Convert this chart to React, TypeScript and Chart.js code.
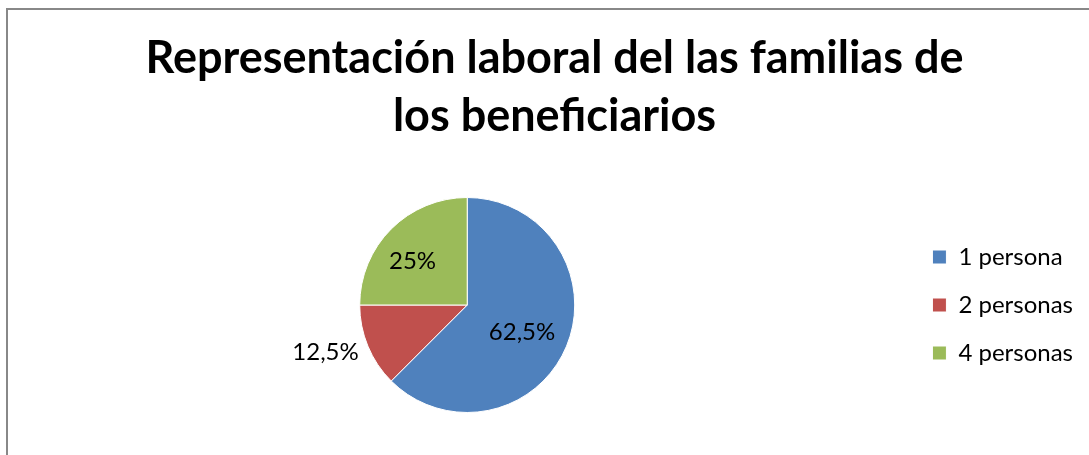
import React, { useEffect, useRef } from "react";
import { Chart, registerables } from "chart.js";

Chart.register(...registerables);

const titleLines = ["Representación laboral del las familias de", "los beneficiarios"];
const categories = ["1 persona", "2 personas", "4 personas"];
const shares = [62.5, 12.5, 25];
const valueLabels = ["62,5%", "12,5%", "25%"];
const sliceColors = ["#4F81BD", "#C0504D", "#9BBB59"];

const FONT = "Lato, 'Noto Sans', sans-serif";

const labelPlugin = {
  id: "sliceLabels",
  afterDatasetsDraw(chart: any, _args: any, opts: any) {
    const ctx = chart.ctx;
    const meta = chart.getDatasetMeta(0);
    ctx.save();
    ctx.font = `${opts.size}px ${FONT}`;
    ctx.fillStyle = "#000";
    ctx.textBaseline = "middle";
    meta.data.forEach((arc: any, i: number) => {
      const mid = (arc.startAngle + arc.endAngle) / 2 + (opts.angleOffsets[i] * Math.PI) / 180;
      const f = opts.factors[i];
      const x = arc.x + Math.cos(mid) * arc.outerRadius * f;
      const y = arc.y + Math.sin(mid) * arc.outerRadius * f;
      ctx.textAlign = opts.aligns[i];
      ctx.fillText(valueLabels[i], x, y);
    });
    ctx.restore();
  },
};

export default function App() {
  const ref = useRef<HTMLCanvasElement | null>(null);
  useEffect(() => {
    if (!ref.current) return;
    const chart = new Chart(ref.current, {
      type: "pie",
      data: {
        labels: categories,
        datasets: [
          {
            data: shares,
            backgroundColor: sliceColors,
            borderColor: "#ffffff",
            borderWidth: 1,
          },
        ],
      },
      options: {
        responsive: false,
        animation: false,
        layout: { padding: { top: 0, bottom: 42, left: 26, right: 6 } },
        plugins: {
          title: {
            display: true,
            text: titleLines,
            color: "#000",
            font: { family: FONT, size: 45, weight: "bold", lineHeight: 58 / 45 },
            padding: { top: 29, bottom: 52 },
          },
          legend: {
            display: true,
            position: "right",
            fullSize: false,
            labels: {
              boxWidth: 14,
              boxHeight: 14,
              padding: 24,
              color: "#000",
              font: { family: FONT, size: 24 },
            },
          },
          tooltip: { enabled: false },
          sliceLabels: {
            size: 24,
            factors: [0.57, 1.1, 0.65],
            angleOffsets: [4, -1, -6.5],
            aligns: ["center", "right", "center"],
          },
        } as any,
      },
      plugins: [labelPlugin],
    });
    return () => chart.destroy();
  }, []);
  return (
    <div style={{ position: "fixed", left: 0, top: 0, width: 1089, height: 455, overflow: "hidden", background: "#fff" }}>
      <div
        style={{
          position: "absolute",
          left: 6,
          top: 8,
          width: 1200,
          height: 600,
          border: "2px solid #888888",
          boxSizing: "border-box",
        }}
      />
      <canvas ref={ref} width={1089} height={455} style={{ position: "absolute", left: 0, top: 0, width: 1089, height: 455 }} />
    </div>
  );
}
